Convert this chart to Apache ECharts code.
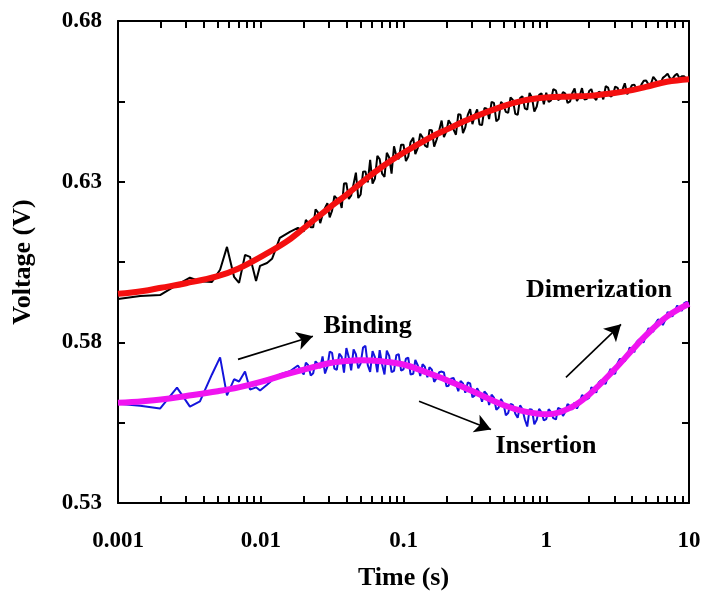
<!DOCTYPE html>
<html>
<head>
<meta charset="utf-8">
<script src="https://cdn.jsdelivr.net/npm/echarts@6/dist/echarts.min.js"></script>
<style>html,body{margin:0;padding:0;background:#fff}#c{width:714px;height:608px}</style>
</head>
<body>
<div id="c"></div>
<script>
// ---- data ----
const timeEarly = [0.001, 0.00143, 0.00197, 0.00259, 0.00319, 0.00375, 0.00455, 0.00519, 0.0058, 0.0065, 0.00705, 0.00776, 0.00841, 0.00927, 0.00989, 0.01107, 0.0120, 0.0136, 0.0160, 0.0182];
const upperEarly = [0.5935, 0.5944, 0.5947, 0.5979, 0.6001, 0.5990, 0.5988, 0.6026, 0.6097, 0.6004, 0.5985, 0.6072, 0.6066, 0.5991, 0.6038, 0.6047, 0.6060, 0.6125, 0.6144, 0.6156];
const lowerEarly = [0.5609, 0.5603, 0.5594, 0.5659, 0.5600, 0.5616, 0.5700, 0.5753, 0.5635, 0.5685, 0.5678, 0.5709, 0.5653, 0.5660, 0.5650, 0.5668, 0.5682, 0.5700, 0.5710, 0.5728];

const timeDense = [0.0200, 0.0215, 0.0233, 0.0251, 0.0271, 0.0293, 0.0316, 0.0341, 0.0369, 0.0398, 0.0430, 0.0464, 0.0501, 0.0541, 0.0584, 0.0631, 0.0681, 0.0736, 0.0794, 0.0858, 0.0926,
  0.100, 0.108, 0.117, 0.126, 0.136, 0.147, 0.158, 0.171, 0.185, 0.200, 0.215, 0.233, 0.251, 0.271, 0.293, 0.316, 0.341, 0.369, 0.398, 0.430, 0.464, 0.501, 0.541, 0.584, 0.631, 0.681, 0.736, 0.794, 0.858, 0.926,
  1.00, 1.08, 1.17, 1.26, 1.36, 1.47, 1.58, 1.71, 1.85, 2.00, 2.15, 2.33, 2.51, 2.71, 2.93, 3.16, 3.41, 3.69, 3.98, 4.30, 4.64, 5.01, 5.41, 5.84, 6.31, 6.81, 7.36, 7.94, 8.58, 9.26, 10.0];
const upperDense = [0.6145, 0.6172, 0.6158, 0.6205, 0.6197, 0.6233, 0.6210, 0.6247, 0.6218, 0.6295, 0.6257, 0.6328, 0.6260, 0.6332, 0.6368, 0.6310, 0.6370, 0.6315, 0.6375, 0.6410, 0.6370,
  0.6415, 0.6378, 0.6437, 0.6405, 0.6438, 0.6407, 0.6460, 0.6432, 0.6490, 0.6457, 0.6479, 0.6446, 0.6508, 0.6469, 0.6526, 0.6507, 0.6478, 0.6529, 0.6495, 0.6545, 0.6495, 0.6540, 0.6514, 0.6554, 0.6508, 0.6566, 0.6524, 0.6562, 0.6534, 0.6575,
  0.6577, 0.6553, 0.6583, 0.6559, 0.6574, 0.6550, 0.6590, 0.6566, 0.6556, 0.6582, 0.6563, 0.6580, 0.6556, 0.6593, 0.6570, 0.6592, 0.6585, 0.6572, 0.6600, 0.6588, 0.6602, 0.6615, 0.6604, 0.6617, 0.6606, 0.6629, 0.6622, 0.6630, 0.6622, 0.6628, 0.6619];
const lowerDense = [0.5700, 0.5729, 0.5704, 0.5733, 0.5756, 0.5724, 0.5767, 0.5714, 0.5755, 0.5782, 0.5713, 0.5763, 0.5734, 0.5789, 0.5708, 0.5753, 0.5776, 0.5700, 0.5758, 0.5711, 0.5763,
  0.5716, 0.5752, 0.5702, 0.5728, 0.5732, 0.5691, 0.5715, 0.5689, 0.5709, 0.5663, 0.5687, 0.5671, 0.5680, 0.5643, 0.5672, 0.5635, 0.5643, 0.5647, 0.5605, 0.5628, 0.5597, 0.5610, 0.5580, 0.5605, 0.5565, 0.5592, 0.5538, 0.5590, 0.5559, 0.5582,
  0.5561, 0.5583, 0.5560, 0.5592, 0.5584, 0.5601, 0.5613, 0.5610, 0.5631, 0.5628, 0.5656, 0.5675, 0.5673, 0.5699, 0.5704, 0.5735, 0.5742, 0.5754, 0.5781, 0.5801, 0.5802, 0.5827, 0.5836, 0.5859, 0.5868, 0.5869, 0.5889, 0.5895, 0.5908, 0.5922, 0.5920];

const timeMid = [0.0207, 0.0224, 0.0242, 0.0261, 0.0282, 0.0304, 0.0328, 0.0355, 0.0383, 0.0414, 0.0447, 0.0482, 0.0521, 0.0562, 0.0607, 0.0656, 0.0708, 0.0764, 0.0825, 0.0891, 0.0962,
  0.104, 0.112, 0.121, 0.131, 0.141, 0.152, 0.164, 0.178, 0.192, 0.207, 0.224, 0.242, 0.261, 0.282, 0.304, 0.328, 0.355, 0.383, 0.414, 0.447, 0.482, 0.521, 0.562, 0.607, 0.656, 0.708, 0.764, 0.825, 0.891, 0.962,
  1.04, 1.12, 1.21, 1.31, 1.41, 1.52, 1.64, 1.78, 1.92, 2.07, 2.24, 2.42, 2.61, 2.82, 3.04, 3.28, 3.55, 3.83, 4.14, 4.47, 4.82, 5.21, 5.62, 6.07, 6.56, 7.08, 7.64, 8.25, 8.91, 9.62];
const upperMid = [0.6181, 0.6158, 0.6214, 0.6171, 0.6218, 0.6189, 0.6256, 0.6248, 0.6294, 0.6246, 0.6293, 0.6249, 0.6331, 0.6298, 0.6294, 0.6380, 0.6325, 0.6390, 0.6325, 0.6380, 0.6415,
  0.6364, 0.6423, 0.6386, 0.6449, 0.6413, 0.6461, 0.6409, 0.6461, 0.6439, 0.6491, 0.6463, 0.6510, 0.6451, 0.6508, 0.6479, 0.6525, 0.6476, 0.6527, 0.6548, 0.6488, 0.6548, 0.6517, 0.6562, 0.6511, 0.6560, 0.6528, 0.6576, 0.6518, 0.6570, 0.6541,
  0.6548, 0.6588, 0.6554, 0.6579, 0.6545, 0.6575, 0.6551, 0.6591, 0.6557, 0.6588, 0.6554, 0.6576, 0.6597, 0.6564, 0.6596, 0.6574, 0.6606, 0.6584, 0.6602, 0.6585, 0.6614, 0.6602, 0.6626, 0.6604, 0.6623, 0.6636, 0.6619, 0.6636, 0.6628, 0.6619];
const lowerMid = [0.5737, 0.5697, 0.5741, 0.5720, 0.5703, 0.5771, 0.5718, 0.5765, 0.5706, 0.5753, 0.5778, 0.5719, 0.5784, 0.5729, 0.5773, 0.5707, 0.5731, 0.5774, 0.5707, 0.5760, 0.5712,
  0.5749, 0.5700, 0.5745, 0.5695, 0.5724, 0.5723, 0.5677, 0.5707, 0.5706, 0.5665, 0.5689, 0.5648, 0.5672, 0.5675, 0.5629, 0.5657, 0.5615, 0.5639, 0.5637, 0.5590, 0.5624, 0.5573, 0.5608, 0.5578, 0.5604, 0.5560, 0.5592, 0.5545, 0.5593, 0.5557,
  0.5592, 0.5564, 0.5596, 0.5571, 0.5608, 0.5590, 0.5594, 0.5636, 0.5622, 0.5660, 0.5643, 0.5682, 0.5671, 0.5717, 0.5702, 0.5749, 0.5741, 0.5783, 0.5769, 0.5809, 0.5800, 0.5844, 0.5833, 0.5871, 0.5854, 0.5894, 0.5880, 0.5914, 0.5898, 0.5926];

const fitTime  = [0.001, 0.0015, 0.002, 0.003, 0.005, 0.007, 0.01, 0.015, 0.02, 0.03, 0.04, 0.05, 0.07, 0.1, 0.15, 0.2, 0.3, 0.5, 0.7, 1, 1.5, 2, 3, 4, 5, 7, 10];
const upperFit = [0.5951, 0.5960, 0.5970, 0.5984, 0.6006, 0.6030, 0.6066, 0.6112, 0.6155, 0.6218, 0.6260, 0.6295, 0.6345, 0.6390, 0.6435, 0.6462, 0.6498, 0.6535, 0.6553, 0.6562, 0.6565, 0.6567, 0.6576, 0.6585, 0.6595, 0.6611, 0.6619];
const lowerFit = [0.5612, 0.5617, 0.5622, 0.5633, 0.5648, 0.5660, 0.5677, 0.5700, 0.5715, 0.5735, 0.5742, 0.5744, 0.5741, 0.5731, 0.5704, 0.5683, 0.5649, 0.5605, 0.5585, 0.5576, 0.5598, 0.5638, 0.5715, 0.5776, 0.5822, 0.5880, 0.5920];

const xTickValues = [0.001,0.002,0.003,0.004,0.005,0.006,0.007,0.008,0.009,
  0.01,0.02,0.03,0.04,0.05,0.06,0.07,0.08,0.09,
  0.1,0.2,0.3,0.4,0.5,0.6,0.7,0.8,0.9,
  1,2,3,4,5,6,7,8,9,10];
const xLabelValues = [0.001, 0.01, 0.1, 1, 10];
const xLabelTexts = ['0.001', '0.01', '0.1', '1', '10'];
const yTickValues = [0.53, 0.555, 0.58, 0.605, 0.63, 0.655, 0.68];
const yLabelValues = [0.53, 0.58, 0.63, 0.68];

const annotationTexts = ['Binding', 'Insertion', 'Dimerization'];
const annotationAt = [[0.056, 0.5850], [0.995, 0.5477], [2.34, 0.5962]];
const arrowFrom = [[0.00693, 0.5747], [0.1285, 0.5617], [1.374, 0.5691]];
const arrowTo   = [[0.0232, 0.5819], [0.410, 0.5529], [3.34, 0.5856]];

// ---- chart ----
const FONT = '"Liberation Serif", "Times New Roman", serif';
function mergeSorted(ts, vs) {
  const pts = [];
  ts.forEach((t, k) => t.forEach((x, i) => pts.push([x, vs[k][i]])));
  pts.sort((a, b) => a[0] - b[0]);
  return pts;
}
const zip = (a, b) => a.map((v, i) => [v, b[i]]);
const chart = echarts.init(document.getElementById('c'), null, {renderer: 'canvas'});

function xLabelFmt(v) {
  let best = 0, bd = Infinity;
  xLabelValues.forEach((x, i) => { const d = Math.abs(Math.log10(v) - Math.log10(x)); if (d < bd) { bd = d; best = i; } });
  return xLabelTexts[best];
}
const axisLineStyle = {color: '#000', width: 2};
const baseX = {
  type: 'log', logBase: 10, min: 0.001, max: 10,
  axisLine: {show: true, onZero: false, lineStyle: axisLineStyle},
  axisTick: {show: true, inside: true, length: 7, lineStyle: {color: '#000', width: 2}, customValues: xTickValues},
  minorTick: {show: false},
  splitLine: {show: false}
};
const baseY = {
  type: 'value', min: 0.53, max: 0.68,
  axisLine: {show: true, onZero: false, lineStyle: axisLineStyle},
  axisTick: {show: true, inside: true, length: 7, lineStyle: {color: '#000', width: 2}, customValues: yTickValues},
  splitLine: {show: false}
};

chart.setOption({
  animation: false,
  backgroundColor: '#fff',
  grid: {left: 118, right: 25, top: 21, bottom: 105},
  xAxis: [
    Object.assign({}, baseX, {
      position: 'bottom',
      name: 'Time (s)', nameLocation: 'middle', nameGap: 62,
      nameTextStyle: {fontFamily: FONT, fontWeight: 'bold', fontSize: 26, color: '#000'},
      axisLabel: {show: true, customValues: xLabelValues, formatter: xLabelFmt, margin: 27,
        fontFamily: FONT, fontWeight: 'bold', fontSize: 23, color: '#000'}
    }),
    Object.assign({}, baseX, {position: 'top', axisLabel: {show: false}})
  ],
  yAxis: [
    Object.assign({}, baseY, {
      position: 'left',
      name: 'Voltage (V)', nameLocation: 'middle', nameGap: 82, nameRotate: 90,
      nameTextStyle: {fontFamily: FONT, fontWeight: 'bold', fontSize: 26, color: '#000'},
      axisLabel: {show: true, customValues: yLabelValues, formatter: v => v.toFixed(2), margin: 16,
        fontFamily: FONT, fontWeight: 'bold', fontSize: 23, color: '#000'}
    }),
    Object.assign({}, baseY, {position: 'right', axisLabel: {show: false}})
  ],
  series: [
    {
      type: 'line', name: 'upper data',
      data: mergeSorted([timeEarly, timeDense, timeMid], [upperEarly, upperDense, upperMid]),
      showSymbol: false, symbol: 'none', lineStyle: {color: '#000', width: 2}, z: 2
    },
    {
      type: 'line', name: 'upper fit', data: zip(fitTime, upperFit), smooth: 0.4,
      showSymbol: false, symbol: 'none', lineStyle: {color: '#f40f0f', width: 6}, z: 3
    },
    {
      type: 'line', name: 'lower data',
      data: mergeSorted([timeEarly, timeDense, timeMid], [lowerEarly, lowerDense, lowerMid]),
      showSymbol: false, symbol: 'none', lineStyle: {color: '#1414dc', width: 2}, z: 2
    },
    {
      type: 'line', name: 'lower fit', data: zip(fitTime, lowerFit), smooth: 0.4,
      showSymbol: false, symbol: 'none', lineStyle: {color: '#f014f0', width: 6}, z: 3,
      markLine: {
        silent: true, symbol: ['none', 'arrow'], symbolSize: [14, 16],
        lineStyle: {color: '#000', width: 1.6, type: 'solid'},
        label: {show: false},
        data: arrowFrom.map((f, i) => [{coord: f}, {coord: arrowTo[i]}])
      },
      markPoint: {
        silent: true, symbol: 'circle', symbolSize: 1, itemStyle: {color: 'rgba(0,0,0,0)'},
        label: {show: true, position: 'inside', color: '#000', fontFamily: FONT, fontWeight: 'bold', fontSize: 26,
          formatter: p => p.name},
        data: annotationTexts.map((t, i) => ({name: t, coord: annotationAt[i]}))
      }
    }
  ]
});
</script>
</body>
</html>
